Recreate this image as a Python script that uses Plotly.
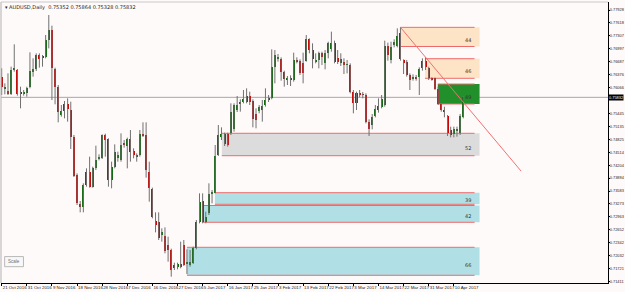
import plotly.graph_objects as go
import numpy as np

# ---------------- data (AUDUSD daily) ----------------
opens = [0.76328,0.76048,0.75984,0.75904,0.76488,0.76488,0.75952,0.75920,0.75928,0.76088,
         0.76448,0.76512,0.76848,0.76808,0.76808,0.77208,0.77448,0.76512,0.76088,0.75408,
         0.75504,0.75664,0.75528,0.74872,0.73968,0.73264,0.73208,0.73728,0.74048,0.73688,
         0.74128,0.74352,0.74384,0.74928,0.74832,0.73848,0.74168,0.74368,0.74328,0.74728,
         0.74672,0.74832,0.74544,0.74408,0.74448,0.74944,0.74928,0.74048,0.73632,0.72864,
         0.72848,0.72528,0.72504,0.72280,0.72168,0.71808,0.71752,0.71824,0.72280,0.71832,
         0.71808,0.71864,0.72216,0.72840,0.73344,0.72848,0.73048,0.73528,0.73544,0.74448,
         0.74888,0.74712,0.74952,0.74968,0.75064,0.75528,0.75688,0.75728,0.75728,0.75864,
         0.75752,0.75424,0.75512,0.75528,0.75640,0.75768,0.75816,0.76568,0.76768,0.76744,
         0.76448,0.76264,0.76248,0.76248,0.76728,0.76712,0.76648,0.76712,0.77224,0.76968,
         0.76688,0.76728,0.76904,0.76664,0.76888,0.76984,0.77128,0.76768,0.76664,0.76688,
         0.76608,0.76600,0.75968,0.75704,0.75928,0.75912,0.75888,0.75248,0.75168,0.75384,
         0.75528,0.75608,0.75656,0.77064,0.76728,0.77088,0.77064,0.77384,0.76728,0.76688,
         0.76368,0.76288,0.76328,0.76328,0.76528,0.76712,0.76528,0.76288,0.76288,0.76040,
         0.75672,0.75528,0.75384,0.75048,0.74952,0.75032,0.74968,0.75352]
highs = [0.76528,0.76168,0.76408,0.76568,0.77104,0.76512,0.76088,0.76008,0.76088,0.76912,
         0.76768,0.76888,0.76888,0.76848,0.77328,0.77808,0.77552,0.76544,0.76128,0.75648,
         0.75744,0.75808,0.75728,0.74928,0.74008,0.73344,0.73768,0.74128,0.74408,0.74168,
         0.74672,0.74464,0.74944,0.74960,0.74848,0.74288,0.74704,0.74528,0.74968,0.74808,
         0.74864,0.75048,0.74608,0.74488,0.75048,0.75232,0.75232,0.74288,0.73664,0.73072,
         0.73072,0.72688,0.72712,0.72488,0.72200,0.71864,0.71864,0.72368,0.72408,0.72184,
         0.72168,0.72248,0.72888,0.73528,0.73528,0.73088,0.73768,0.73608,0.74688,0.75168,
         0.75112,0.74984,0.74984,0.75688,0.75688,0.75864,0.75784,0.76008,0.76048,0.75968,
         0.75784,0.75568,0.75648,0.75768,0.76048,0.75888,0.76984,0.76968,0.76872,0.76792,
         0.76472,0.76344,0.76360,0.76904,0.76792,0.76744,0.76904,0.77328,0.77248,0.77128,
         0.76888,0.76928,0.76928,0.76968,0.77168,0.77408,0.77192,0.76968,0.76888,0.76768,
         0.76728,0.76648,0.76008,0.75968,0.76008,0.75960,0.75928,0.75304,0.75432,0.75648,
         0.75808,0.75888,0.77192,0.77144,0.77168,0.77224,0.77488,0.77512,0.76744,0.76728,
         0.76408,0.76384,0.76368,0.76552,0.76768,0.76792,0.76568,0.76312,0.76304,0.76088,
         0.75688,0.75608,0.75408,0.75128,0.75128,0.75128,0.75432,0.75864]
lows = [0.75888,0.75904,0.75888,0.75888,0.76448,0.75872,0.75568,0.75872,0.75848,0.76048,
        0.76328,0.76464,0.76544,0.76568,0.76768,0.77008,0.75768,0.75664,0.75232,0.75368,
        0.75328,0.75248,0.74592,0.73920,0.73248,0.73072,0.73072,0.73688,0.73664,0.73664,
        0.74088,0.74320,0.74352,0.74408,0.73688,0.73648,0.74128,0.74288,0.74288,0.74624,
        0.74128,0.74288,0.74368,0.74288,0.74408,0.74880,0.73904,0.73328,0.72928,0.72592,
        0.72408,0.72368,0.72088,0.71888,0.71528,0.71688,0.71704,0.71728,0.71784,0.71592,
        0.71768,0.71832,0.72184,0.72808,0.72808,0.72808,0.73008,0.73288,0.73528,0.74424,
        0.74808,0.74664,0.74648,0.74928,0.75008,0.75480,0.75488,0.75688,0.75688,0.75648,
        0.75112,0.75088,0.75448,0.75248,0.75608,0.75720,0.75784,0.76168,0.76688,0.76232,
        0.76088,0.76128,0.76104,0.76208,0.76648,0.76368,0.76168,0.76688,0.76888,0.76528,
        0.76648,0.76528,0.76608,0.76504,0.76768,0.76928,0.76648,0.76632,0.76584,0.76392,
        0.76408,0.75928,0.75448,0.75528,0.75832,0.75808,0.75208,0.74904,0.75064,0.75352,
        0.75464,0.75568,0.75608,0.76712,0.76648,0.77032,0.77032,0.76712,0.76392,0.76328,
        0.76008,0.76232,0.76232,0.75888,0.76472,0.76488,0.76248,0.76232,0.76008,0.75648,
        0.75488,0.75352,0.74904,0.74872,0.74872,0.74888,0.74928,0.75328]
closes = [0.76088,0.76088,0.75920,0.76488,0.76528,0.75904,0.75920,0.75952,0.76048,0.76464,
          0.76512,0.76848,0.76752,0.76784,0.77208,0.77448,0.76528,0.76088,0.75472,0.75504,
          0.75664,0.75552,0.74888,0.73952,0.73288,0.73200,0.73728,0.74048,0.73688,0.74128,
          0.74328,0.74392,0.74928,0.74808,0.73848,0.74168,0.74528,0.74448,0.74688,0.74688,
          0.74832,0.74528,0.74448,0.74448,0.74944,0.74912,0.74088,0.73648,0.72968,0.72768,
          0.72448,0.72592,0.72152,0.72168,0.71688,0.71728,0.71824,0.71760,0.71808,0.71864,
          0.71888,0.72216,0.72840,0.73320,0.72848,0.72952,0.73512,0.73544,0.74424,0.74928,
          0.74944,0.74952,0.74688,0.75472,0.75640,0.75640,0.75720,0.75800,0.75864,0.75720,
          0.75304,0.75288,0.75592,0.75632,0.75768,0.75800,0.76552,0.76840,0.76808,0.76448,
          0.76264,0.76288,0.76280,0.76728,0.76696,0.76408,0.76424,0.77224,0.76968,0.76744,
          0.76728,0.76904,0.76808,0.76904,0.77128,0.77128,0.76688,0.76688,0.76744,0.76608,
          0.76632,0.75968,0.75704,0.75928,0.75904,0.75888,0.75248,0.75064,0.75368,0.75544,
          0.75632,0.75792,0.77064,0.76848,0.77048,0.77160,0.77304,0.76744,0.76648,0.76368,
          0.76248,0.76328,0.76280,0.76520,0.76712,0.76552,0.76288,0.76264,0.76040,0.75672,
          0.75528,0.75488,0.74984,0.74928,0.75080,0.75064,0.75384,0.75832]

date_ticks = [0, 8, 16, 24, 32, 40, 48, 56, 64, 72, 80, 88, 96, 104, 112, 120, 128, 136, 144]
date_labels = ["21 Oct 2016", "31 Oct 2016", "9 Nov 2016", "18 Nov 2016", "28 Nov 2016",
               "7 Dec 2016", "16 Dec 2016", "27 Dec 2016", "5 Jan 2017", "16 Jan 2017",
               "25 Jan 2017", "3 Feb 2017", "13 Feb 2017", "22 Feb 2017", "3 Mar 2017",
               "14 Mar 2017", "22 Mar 2017", "31 Mar 2017", "10 Apr 2017"]
price_ticks = [0.77928, 0.77618, 0.77307, 0.76997, 0.76687, 0.76376, 0.76066,
               0.75445, 0.75135, 0.74825, 0.74514, 0.74204, 0.73894, 0.73583, 0.73273,
               0.72963, 0.72652, 0.72342, 0.72032, 0.71721, 0.71411]

# zones: start bar, top, bottom, label, fill colour
zone_start = [127, 134.8, 138.9, 70.1, 67.9, 64.0, 59.0]
zone_top = [0.77512, 0.76759, 0.76152, 0.74969, 0.73543, 0.73236, 0.72233]
zone_bottom = [0.77052, 0.76289, 0.75672, 0.74431, 0.73265, 0.72833, 0.71561]
zone_label = ["44", "46", "49", "52", "39", "42", "66"]
zone_fill = ["#fde4c6", "#fde4c6", "#22902a", "#dcdcdc", "#b0e0e6", "#b0e0e6", "#b0e0e6"]

trend_x = [127, 165.4]
trend_y = [0.77512, 0.74064]
current_price = 0.75832

# ---------------- figure ----------------
n = len(opens)
xs = list(range(n))
o = np.array(opens); c = np.array(closes); h = np.array(highs); l = np.array(lows)

wx, wy = [], []
for i in xs:
    wx += [i, i, None]
    wy += [l[i], h[i], None]

base = np.minimum(o, c)
height = np.maximum(np.abs(c - o), 0.00012)
colors = ["#0a6a0a" if c[i] >= o[i] else "#d00000" for i in xs]

fig = go.Figure()
fig.add_trace(go.Scatter(x=wx, y=wy, mode="lines", line=dict(color="#707070", width=1),
                         hoverinfo="skip", showlegend=False))
fig.add_trace(go.Bar(x=xs, y=height, base=base, width=0.64, marker_color=colors,
                     marker_line_width=0, showlegend=False))

zone_end_fill = 152.2
zone_end_line = 150.6
shapes = []
annotations = []
for s, t, b, lab, col in zip(zone_start, zone_top, zone_bottom, zone_label, zone_fill):
    shapes.append(dict(type="rect", xref="x", yref="y", x0=s, x1=zone_end_fill, y0=b, y1=t,
                       fillcolor=col, line=dict(width=0), layer="below"))
    for yy in (t, b):
        shapes.append(dict(type="line", xref="x", yref="y", x0=s, x1=zone_end_line, y0=yy, y1=yy,
                           line=dict(color="#ee6a6a", width=1), layer="below"))
    annotations.append(dict(x=148.5, y=t - 0.65 * (t - b), xref="x", yref="y", text=lab,
                            showarrow=False, font=dict(size=5, color="#333333",
                                                       family="DejaVu Sans")))

shapes.append(dict(type="line", xref="x", yref="y", x0=trend_x[0], x1=trend_x[1],
                   y0=trend_y[0], y1=trend_y[1], line=dict(color="#f07070", width=1)))
shapes.append(dict(type="line", xref="paper", yref="y", x0=0, x1=1, y0=current_price,
                   y1=current_price, line=dict(color="#a8a8a8", width=1), layer="below"))
# border lines
shapes.append(dict(type="line", xref="paper", yref="paper", x0=0, x1=0, y0=0, y1=1,
                   line=dict(color="#b0b0b0", width=1)))
shapes.append(dict(type="line", xref="paper", yref="paper", x0=0, x1=1, y0=1, y1=1,
                   line=dict(color="#c8c8c8", width=1)))
# Scale button
shapes.append(dict(type="rect", xref="paper", yref="paper", x0=0.006, x1=0.037, y0=0.058, y1=0.094,
                   line=dict(color="#b8b8b8", width=1), fillcolor="#f8f8f8"))
annotations.append(dict(x=0.0215, y=0.076, xref="paper", yref="paper", text="Scale",
                        xanchor="center", yanchor="middle", borderpad=0,
                        showarrow=False, font=dict(size=4.5, color="#707070",
                                                   family="Liberation Sans")))

annotations.append(dict(x=0.004, y=1.0, xref="paper", yref="paper", xanchor="left", yanchor="top",
                        text="▾ AUDUSD,Daily  0.75352 0.75864 0.75328 0.75832", showarrow=False,
                        font=dict(size=5, color="#222222", family="DejaVu Sans")))
annotations.append(dict(x=1.0, y=current_price, xref="paper", yref="y", xanchor="left",
                        text="%.5f" % current_price, showarrow=False, bgcolor="#000000",
                        borderpad=0, font=dict(size=3.9, color="#ffffff",
                                               family="Liberation Sans")))

fig.update_layout(
    width=625, height=292,
    margin=dict(l=1, r=17, t=2, b=9),
    plot_bgcolor="#fffafa", paper_bgcolor="#fffafa",
    shapes=shapes, annotations=annotations,
    bargap=0, showlegend=False,
    font=dict(family="DejaVu Sans", size=5, color="#222222"),
    xaxis=dict(range=[-0.22, 193.1], tickvals=date_ticks, ticktext=date_labels,
               showgrid=False, zeroline=False, showline=True, linecolor="#000000", linewidth=1,
               ticks="outside", ticklen=2, tickcolor="#000000", tickangle=0, automargin=False,
               tickfont=dict(size=4.4, family="Liberation Sans"),
               ticklabelposition="outside right", fixedrange=True),
    yaxis=dict(range=[0.71376, 0.78120], side="right", tickvals=price_ticks,
               ticktext=["%.5f" % v for v in price_ticks], automargin=False,
               showgrid=False, zeroline=False, showline=True, linecolor="#000000", linewidth=1,
               ticks="outside", ticklen=1, tickcolor="#000000",
               tickfont=dict(size=3.9, family="Liberation Sans"),
               ticklabelstandoff=-1, fixedrange=True),
)

fig.write_html("out.html")
